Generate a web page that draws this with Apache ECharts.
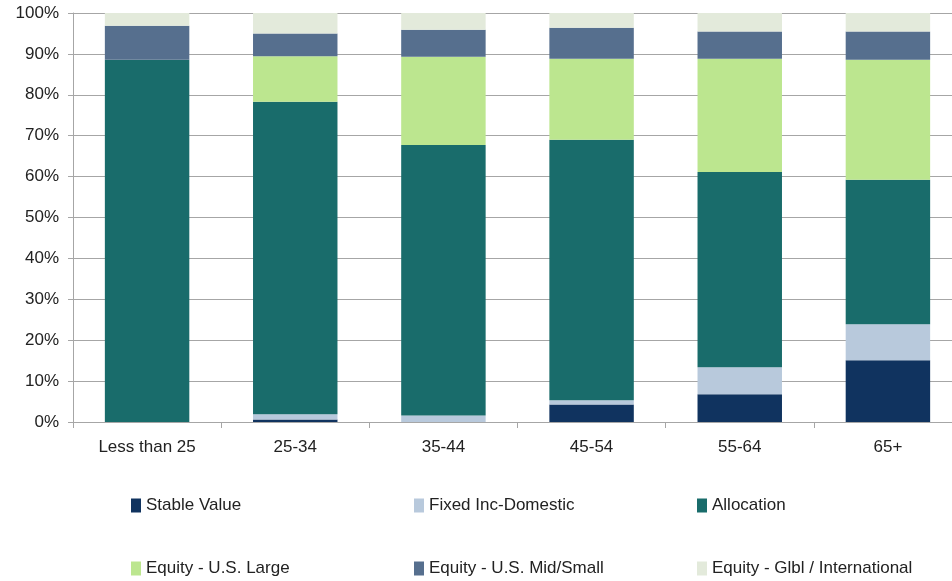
<!DOCTYPE html>
<html>
<head>
<meta charset="utf-8">
<script src="https://cdn.jsdelivr.net/npm/echarts@6/dist/echarts.min.js"></script>
<style>html,body{margin:0;padding:0;background:#fff;overflow:hidden;}#c{width:952px;height:581px;}</style>
</head>
<body>
<div id="c"></div>
<script>
const categories = ['Less than 25', '25-34', '35-44', '45-54', '55-64', '65+'];
const stableValue = [0, 0.6, 0, 4.3, 6.8, 15.1];
const fixedIncDomestic = [0, 1.3, 1.6, 1.0, 6.6, 8.8];
const allocation = [88.6, 76.4, 66.1, 63.7, 47.7, 35.3];
const equityLarge = [0, 11.1, 21.6, 19.8, 27.7, 29.4];
const equityMidSmall = [8.3, 5.6, 6.6, 7.6, 6.7, 6.9];
const equityGlbl = [3.1, 5.0, 4.1, 3.6, 4.5, 4.5];

const seriesNames = ['Stable Value', 'Fixed Inc-Domestic', 'Allocation', 'Equity - U.S. Large', 'Equity - U.S. Mid/Small', 'Equity - Glbl / International'];
const seriesData = [stableValue, fixedIncDomestic, allocation, equityLarge, equityMidSmall, equityGlbl];
const colors = ['#10335f', '#b8c9dc', '#196c6b', '#bce68f', '#566f8e', '#e3eadb'];

const legendPos = [[131, 497], [414, 497], [697, 497], [131, 560], [414, 560], [697, 560]];
const font = "'Liberation Sans', Arial, sans-serif";

const chart = echarts.init(document.getElementById('c'));
chart.setOption({
  animation: false,
  color: colors,
  textStyle: { fontFamily: font },
  grid: { left: 73, right: -10, top: 13, bottom: 159, containLabel: false, outerBoundsMode: 'none' },
  legend: seriesNames.map((n, i) => ({
    data: [n], left: legendPos[i][0], top: legendPos[i][1], padding: 0,
    icon: 'rect', itemWidth: 10, itemHeight: 14,
    textStyle: { fontSize: 17, color: '#222', fontFamily: font }
  })),
  xAxis: {
    type: 'category', data: categories,
    axisLine: { show: true, lineStyle: { color: '#a6a6a6', width: 1 } },
    axisTick: { show: true, length: 6, lineStyle: { color: '#a6a6a6' } },
    axisLabel: { fontSize: 17, color: '#222', margin: 17, fontFamily: font }
  },
  yAxis: {
    type: 'value', min: 0, max: 100, interval: 10,
    axisLine: { show: true, lineStyle: { color: '#a6a6a6', width: 1 } },
    axisTick: { show: true, length: 5, lineStyle: { color: '#a6a6a6' } },
    splitLine: { show: true, lineStyle: { color: '#a6a6a6', width: 1 } },
    axisLabel: { formatter: '{value}%', fontSize: 17, color: '#222', margin: 14, fontFamily: font }
  },
  series: seriesNames.map((n, i) => ({
    name: n, type: 'bar', stack: 'total', data: seriesData[i],
    barWidth: '57%', itemStyle: { color: colors[i] }
  }))
});
</script>
</body>
</html>
